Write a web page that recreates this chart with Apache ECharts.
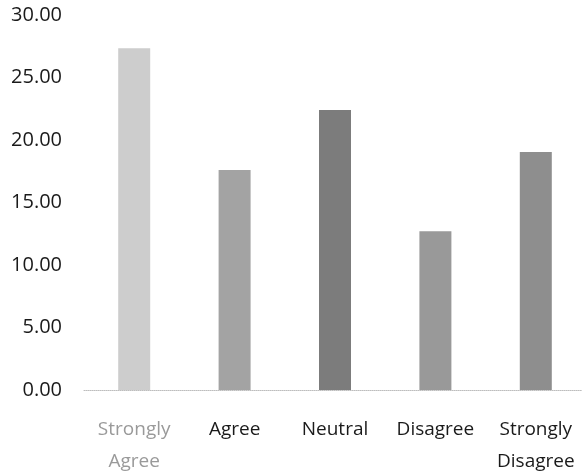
<!DOCTYPE html>
<html>
<head>
<meta charset="utf-8">
<script src="https://cdn.jsdelivr.net/npm/echarts@6/dist/echarts.min.js"></script>
<style>
  html, body { margin: 0; padding: 0; background: #fff; }
</style>
</head>
<body>
<div id="main" style="width: 582px;height:476px;"></div>
<script>
// data
var categories = ["Strongly\nAgree", "Agree", "Neutral", "Disagree", "Strongly\nDisagree"];
var values = [27.35, 17.6, 22.4, 12.7, 19.05];
var barColors = ["#cdcdcd", "#a3a3a3", "#7c7c7c", "#999999", "#8e8e8e"];
var labelColors = ["#9a9a9a", "#1a1a1a", "#1a1a1a", "#1a1a1a", "#1a1a1a"];
var yTicks = [0, 5, 10, 15, 20, 25, 30];

var myChart = echarts.init(document.getElementById("main"));
myChart.setOption({
  animation: false,
  grid: { left: 84, top: 15, width: 502, height: 375, outerBoundsMode: "none" },
  xAxis: {
    type: "category",
    data: categories,
    axisTick: { show: false },
    axisLine: {
      lineStyle: { color: "#bdbdbd", type: "dotted", width: 1 },
    },
    axisLabel: {
      interval: 0,
      margin: 24,
      fontFamily: "Open Sans",
      fontSize: 19,
      lineHeight: 32,
      color: function (v, i) {
        return labelColors[i];
      },
    },
  },
  yAxis: {
    type: "value",
    min: yTicks[0],
    max: yTicks[yTicks.length - 1],
    interval: 5,
    splitLine: { show: false },
    axisLine: { show: false },
    axisTick: { show: false },
    axisLabel: {
      margin: 22,
      fontFamily: "Open Sans",
      fontSize: 20,
      color: "#1a1a1a",
      formatter: function (v) {
        return v.toFixed(2);
      },
    },
  },
  series: [
    {
      type: "bar",
      barWidth: 32,
      data: values.map(function (v, i) {
        return { value: v, itemStyle: { color: barColors[i] } };
      }),
    },
  ],
});
</script>
</body>
</html>
